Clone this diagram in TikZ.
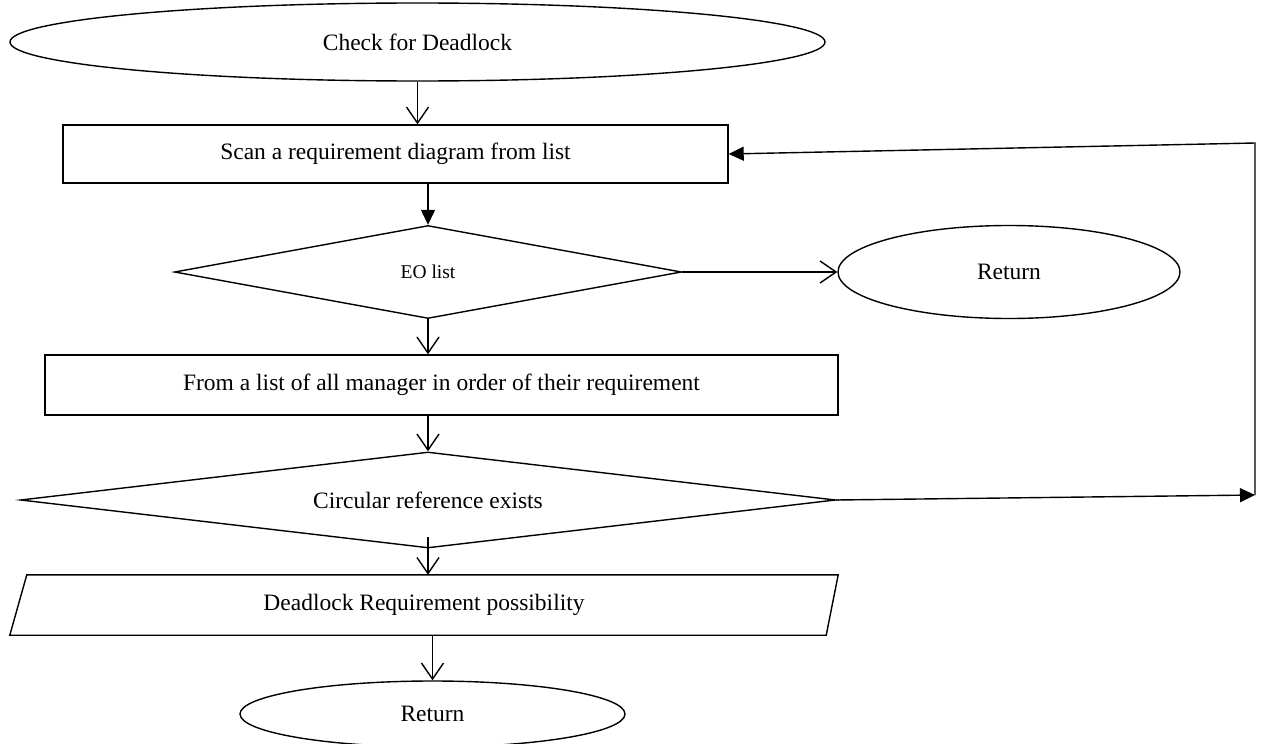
\documentclass[tikz,border=0pt]{standalone}
\usepackage{fontspec}
\setmainfont{Liberation Serif}
\usetikzlibrary{shapes.geometric,arrows.meta,calc}

\tikzset{
  flow/.style={line width=1.4pt, draw=black},
  txt/.style={font=\fontsize{23.5}{27}\selectfont, text=black},
  oval/.style={flow, txt, ellipse, inner sep=0pt},
  box/.style={flow, txt, rectangle, inner sep=0pt},
  decide/.style={flow, diamond, inner sep=0pt, aspect=3},
  openarrow/.style={flow, -{Straight Barb[length=16pt,width=22pt,line width=1.4pt]}},
  fullarrow/.style={flow, -{Triangle[length=15pt,width=14pt]}}
}

\begin{document}
\begin{tikzpicture}[x=1pt,y=-1pt]
  \useasboundingbox (0,0) rectangle (1262,744);

  % start
  \node[oval, minimum width=815pt, minimum height=78pt] (start) at (417.5,42) {Check for Deadlock};

  % scan step
  \node[box, minimum width=665pt, minimum height=58pt] (scan) at (395.5,154) {Scan a requirement diagram from list};

  % end-of-list test
  \node[decide, minimum width=507pt, minimum height=93pt, font=\fontsize{19.5}{22}\selectfont] (eol) at (428,272) {EO list};
  \node[oval, minimum width=342pt, minimum height=93pt] (ret1) at (1009,272) {Return};

  % manager list
  \node[box, minimum width=793pt, minimum height=60pt] (mgr) at (441.5,385) {From a list of all manager in order of their requirement};

  % circular reference test
  \node[decide, txt, minimum width=815pt, minimum height=96pt] (circ) at (428,500) {Circular reference exists};

  % output (parallelogram drawn around an invisible node)
  \node[txt, inner sep=0pt, minimum width=828pt, minimum height=60pt] (outp) at (424,605) {Deadlock Requirement possibility};
  \draw[flow] (outp.south west) -- ($(outp.north west)+(17,0)$) -- (outp.north east)
              -- ($(outp.south east)+(-12,0)$) -- cycle;

  % final return
  \node[oval, minimum width=385pt, minimum height=66pt] (ret2) at (432.5,714) {Return};

  % loop-back corner points
  \coordinate (c1) at (1255,495);
  \coordinate (c2) at (1255,143);

  % connectors
  \draw[openarrow] (start.south) -- (start.south |- scan.north);
  \draw[fullarrow] (scan.south -| eol.north) -- (eol.north);
  \draw[openarrow] (eol.east) -- (ret1.west);
  \draw[openarrow] (eol.south) -- (eol.south |- mgr.north);
  \draw[openarrow] (circ.north |- mgr.south) -- (circ.north);
  \draw[openarrow] ($(circ.south)+(0,-12)$) -- (circ.south |- outp.north);
  \draw[openarrow] (ret2.north |- outp.south) -- (ret2.north);
  \draw[fullarrow] (circ.east) -- (c1);
  \draw[fullarrow] (c1) -- (c2) -- (scan.east);
\end{tikzpicture}
\end{document}
